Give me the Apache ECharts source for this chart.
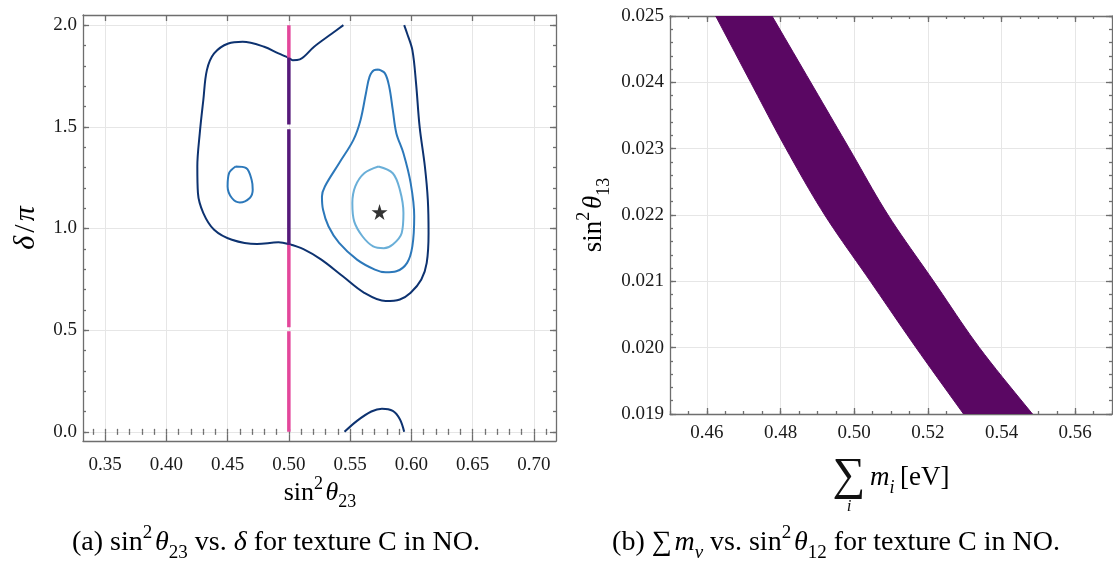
<!DOCTYPE html>
<html>
<head>
<meta charset="utf-8">
<script src="https://cdn.jsdelivr.net/npm/echarts@6/dist/echarts.min.js"></script>
<style>
  html, body { margin: 0; padding: 0; background: #ffffff; }
  #chart { width: 1113px; height: 561px; }
</style>
</head>
<body>
<div id="chart"></div>
<script>
// ---------- panel (a): sin^2(theta23) vs delta/pi ----------
const aXTicks = [0.35, 0.40, 0.45, 0.50, 0.55, 0.60, 0.65, 0.70];
const aYTicks = [0.0, 0.5, 1.0, 1.5, 2.0];

// outermost contour, open where it meets delta = 2pi
const contourOuter = [
  [0.5445, 2.0], [0.5352, 1.959], [0.5206, 1.894], [0.5090, 1.832], [0.5031, 1.828],
  [0.4996, 1.840], [0.4915, 1.861], [0.4798, 1.894], [0.4623, 1.918], [0.4506, 1.910],
  [0.4390, 1.861], [0.4331, 1.779], [0.4302, 1.632], [0.4273, 1.469], [0.4253, 1.305],
  [0.4258, 1.174], [0.4302, 1.076], [0.4390, 0.994], [0.4535, 0.945], [0.4740, 0.924],
  [0.4915, 0.932], [0.4996, 0.924], [0.5119, 0.899], [0.5265, 0.847], [0.5440, 0.765],
  [0.5615, 0.684], [0.5790, 0.643], [0.5906, 0.651], [0.5994, 0.684], [0.6081, 0.749],
  [0.6125, 0.831], [0.6140, 0.978], [0.6134, 1.141], [0.6110, 1.305], [0.6067, 1.501],
  [0.6038, 1.714], [0.6008, 1.877], [0.5965, 1.959], [0.5941, 2.0]
];
// the same level wrapping round from delta = 0
const contourOuterLow = [
  [0.5454, 0.0], [0.5556, 0.054], [0.5673, 0.100], [0.5760, 0.114],
  [0.5848, 0.103], [0.5906, 0.062], [0.5941, 0.0]
];
// middle level: small island on the left
const contourMidLeft = [
  [0.4565, 1.305], [0.4652, 1.297], [0.4696, 1.240], [0.4705, 1.190], [0.4681, 1.150],
  [0.4600, 1.128], [0.4535, 1.150], [0.4500, 1.207], [0.4512, 1.272], [0.4565, 1.305]
];
// middle level: region around the best fit
const contourMidRight = [
  [0.5731, 1.782], [0.5784, 1.763], [0.5819, 1.697], [0.5848, 1.583], [0.5877, 1.469],
  [0.5935, 1.370], [0.5994, 1.223], [0.6023, 1.060], [0.6008, 0.913], [0.5965, 0.831],
  [0.5877, 0.790], [0.5790, 0.785], [0.5702, 0.798], [0.5556, 0.847], [0.5410, 0.929],
  [0.5323, 1.011], [0.5279, 1.092], [0.5270, 1.158], [0.5294, 1.207], [0.5410, 1.321],
  [0.5527, 1.436], [0.5585, 1.534], [0.5629, 1.665], [0.5658, 1.746], [0.5696, 1.779],
  [0.5731, 1.782]
];
// innermost level
const contourInner = [
  [0.5731, 1.305], [0.5848, 1.272], [0.5906, 1.190], [0.5935, 1.076], [0.5921, 0.978],
  [0.5848, 0.921], [0.5775, 0.903], [0.5688, 0.912], [0.5600, 0.962], [0.5533, 1.035],
  [0.5518, 1.125], [0.5542, 1.207], [0.5615, 1.272], [0.5731, 1.305]
];
const bestFit = [[0.574, 1.081]];

// the texture-C prediction sin^2 theta23 = 0.5, split by colour along delta
const predictionX = 0.5;
const pinkRanges = [[0.0, 0.495], [0.515, 0.92], [1.84, 2.0]];
const purpleRanges = [[0.92, 1.488], [1.512, 1.84]];

// ---------- panel (b): sum of masses vs sin^2(theta13) ----------
const bXTicks = [0.46, 0.48, 0.50, 0.52, 0.54, 0.56];
const bYTicks = [0.019, 0.020, 0.021, 0.022, 0.023, 0.024, 0.025];
// allowed band: edges in sum m_i at each sin^2 theta13 level
const bandY     = [0.025, 0.024, 0.023, 0.022, 0.021, 0.020, 0.019];
const bandLeft  = [0.4624, 0.4719, 0.4815, 0.4920, 0.5044, 0.5168, 0.5297];
const bandRight = [0.4777, 0.4882, 0.4987, 0.5092, 0.5216, 0.5340, 0.5484];

// ---------- styling ----------
const FONT = '"Liberation Serif", "DejaVu Serif", serif';
const INK = '#111111';
const AXIS = '#6e6e6e';
const GRIDLINE = '#e6e6e6';
const NAVY = '#0d3270';
const MID = '#2c78ba';
const LIGHT = '#6aafd8';
const PINK = '#e3479b';
const PURPLE = '#56197a';
const BAND = '#5a0763';

function minorValues(min, max, step) {
  const out = [];
  for (let k = Math.ceil(min / step - 1e-9); k * step <= max + 1e-12; k++) {
    out.push(+(k * step).toFixed(6));
  }
  return out;
}

// four axes per direction: labelled main axis, its minor ticks, and mirrored ticks opposite
function axisGroup(dim, grid, min, max, majors, minorStep, fmt, margin) {
  const lineStyle = { color: AXIS, width: 1.3 };
  const minors = minorValues(min, max, minorStep);
  const posA = dim === 'x' ? 'bottom' : 'left';
  const posB = dim === 'x' ? 'top' : 'right';
  const base = { type: 'value', gridIndex: grid, min: min, max: max, axisPointer: { show: false } };
  return [
    Object.assign({}, base, {
      position: posA,
      axisLine: { show: true, onZero: false, lineStyle: lineStyle },
      axisTick: { show: true, inside: true, length: 6, customValues: majors, lineStyle: lineStyle },
      axisLabel: { show: true, customValues: majors, formatter: fmt, margin: margin,
                   color: '#1a1a1a', fontFamily: FONT, fontSize: 19 },
      splitLine: { show: true, lineStyle: { color: GRIDLINE, width: 1 } }
    }),
    Object.assign({}, base, {
      position: posA,
      axisLine: { show: false },
      axisTick: { show: true, inside: true, length: 3, customValues: minors, lineStyle: lineStyle },
      axisLabel: { show: false },
      splitLine: { show: false }
    }),
    Object.assign({}, base, {
      position: posB,
      axisLine: { show: true, onZero: false, lineStyle: lineStyle },
      axisTick: { show: true, inside: true, length: 6, customValues: majors, lineStyle: lineStyle },
      axisLabel: { show: false },
      splitLine: { show: false }
    }),
    Object.assign({}, base, {
      position: posB,
      axisLine: { show: false },
      axisTick: { show: true, inside: true, length: 3, customValues: minors, lineStyle: lineStyle },
      axisLabel: { show: false },
      splitLine: { show: false }
    })
  ];
}

// rich-text styles for inline maths (sin^2 theta_23 and the like)
function mathRich(size) {
  const s = Math.round(size * 0.68);
  const L = Math.round(size * 1.4);
  return {
    r:    { fontFamily: FONT, fontSize: size, lineHeight: L, color: INK },
    i:    { fontFamily: FONT, fontStyle: 'italic', fontSize: size, lineHeight: L, color: INK },
    sp:   { fontFamily: FONT, fontSize: Math.round(size * 0.4), lineHeight: L, color: INK },
    sup:  { fontFamily: FONT, fontSize: s, lineHeight: Math.round(size * 0.9), verticalAlign: 'top', color: INK },
    sub:  { fontFamily: FONT, fontSize: s, lineHeight: Math.round(size * 0.8), verticalAlign: 'bottom', color: INK },
    subi: { fontFamily: FONT, fontStyle: 'italic', fontSize: s, lineHeight: Math.round(size * 0.8), verticalAlign: 'bottom', color: INK }
  };
}

const xAxes = []
  .concat(axisGroup('x', 0, 0.332, 0.718, aXTicks, 0.01, v => v.toFixed(2), 15))
  .concat(axisGroup('x', 1, 0.45, 0.57, bXTicks, 0.005, v => v.toFixed(2), 10));
const yAxes = []
  .concat(axisGroup('y', 0, -0.045, 2.05, aYTicks, 0.1, v => v.toFixed(1), 6))
  .concat(axisGroup('y', 1, 0.019, 0.025, bYTicks, 0.0002, v => v.toFixed(3), 6));

const series = [];
function contour(data, color) {
  series.push({
    type: 'line', xAxisIndex: 0, yAxisIndex: 0, data: data,
    symbol: 'none', smooth: 0.35, silent: true, z: 3,
    lineStyle: { color: color, width: 2 }
  });
}
contour(contourOuter, NAVY);
contour(contourOuterLow, NAVY);
contour(contourMidLeft, MID);
contour(contourMidRight, MID);
contour(contourInner, LIGHT);

function prediction(ranges, color) {
  ranges.forEach(r => {
    series.push({
      type: 'line', xAxisIndex: 0, yAxisIndex: 0,
      data: [[predictionX, r[0]], [predictionX, r[1]]],
      symbol: 'none', silent: true, z: 4,
      lineStyle: { color: color, width: 3.5, cap: 'butt' }
    });
  });
}
prediction(pinkRanges, PINK);
prediction(purpleRanges, PURPLE);

series.push({
  type: 'scatter', xAxisIndex: 0, yAxisIndex: 0, data: bestFit, z: 5, silent: true,
  symbol: 'path://M50,0 L61.2,34.5 L97.6,34.5 L68.2,55.9 L79.4,90.5 L50,69.1 L20.6,90.5 L31.8,55.9 L2.4,34.5 L38.8,34.5 Z',
  symbolSize: 16, itemStyle: { color: '#000000' }
});

// Catmull-Rom through screen points so the band edges bend smoothly
function smoothEdge(pts, steps) {
  const out = [pts[0]];
  for (let i = 0; i < pts.length - 1; i++) {
    const p0 = pts[i - 1] || pts[i], p1 = pts[i], p2 = pts[i + 1], p3 = pts[i + 2] || pts[i + 1];
    for (let k = 1; k <= steps; k++) {
      const t = k / steps, t2 = t * t, t3 = t2 * t;
      const f = (a, b, c, d) => 0.5 * ((2 * b) + (-a + c) * t + (2 * a - 5 * b + 4 * c - d) * t2 + (-a + 3 * b - 3 * c + d) * t3);
      out.push([f(p0[0], p1[0], p2[0], p3[0]), f(p0[1], p1[1], p2[1], p3[1])]);
    }
  }
  return out;
}

const bandPoly = bandY.map((y, i) => [bandLeft[i], y])
  .concat(bandY.map((y, i) => [bandRight[i], y]).reverse());
series.push({
  type: 'custom', xAxisIndex: 4, yAxisIndex: 4, data: bandPoly, clip: true, silent: true, z: 3,
  renderItem: function (params, api) {
    if (params.dataIndex !== 0) return null;
    const left = bandY.map((y, i) => api.coord([bandLeft[i], y]));
    const right = bandY.map((y, i) => api.coord([bandRight[i], y])).reverse();
    const pts = smoothEdge(left, 10).concat(smoothEdge(right, 10));
    return {
      type: 'polygon',
      shape: { points: pts },
      style: { fill: BAND, stroke: BAND, lineWidth: 1 }
    };
  }
});

const graphic = [
  { type: 'text', x: 320, y: 493, style: { text: '{r|sin}{sup|2}{sp| }{i|θ}{sub|23}', rich: mathRich(26), align: 'center', verticalAlign: 'middle' } },
  { type: 'text', x: 26, y: 228, rotation: Math.PI / 2, style: { text: '{i|δ}{sp| }{r|/}{sp| }{i|π}', rich: mathRich(30), align: 'center', verticalAlign: 'middle' } },
  { type: 'text', x: 594, y: 215, rotation: Math.PI / 2, style: { text: '{r|sin}{sup|2}{sp| }{i|θ}{sub|13}', rich: mathRich(27), align: 'center', verticalAlign: 'middle' } },
  { type: 'text', x: 849, y: 477, style: { text: '∑', fontFamily: FONT, fontSize: 46, fill: INK, align: 'center', verticalAlign: 'middle' } },
  { type: 'text', x: 849, y: 507, style: { text: 'i', fontFamily: FONT, fontStyle: 'italic', fontSize: 17, fill: INK, align: 'center', verticalAlign: 'middle' } },
  { type: 'text', x: 870, y: 478, style: { text: '{i|m}{subi|i}{sp| }{sp| }{r|[eV]}', rich: mathRich(27), align: 'left', verticalAlign: 'middle' } },
  { type: 'text', x: 276, y: 543, style: { text: '{r|(a) sin}{sup|2}{sp| }{i|θ}{sub|23}{r| vs. }{i|δ}{r| for texture C in NO.}', rich: mathRich(28), align: 'center', verticalAlign: 'middle' } },
  { type: 'text', x: 836, y: 543, style: { text: '{r|(b) }{r|∑}{sp| }{i|m}{subi|ν}{r| vs. sin}{sup|2}{sp| }{i|θ}{sub|12}{r| for texture C in NO.}', rich: mathRich(28), align: 'center', verticalAlign: 'middle' } }
];

const chart = echarts.init(document.getElementById('chart'), null, { renderer: 'canvas' });
chart.setOption({
  backgroundColor: '#ffffff',
  animation: false,
  grid: [
    { left: 83, top: 15, width: 473, height: 426 },
    { left: 670, top: 16, width: 442, height: 398 }
  ],
  xAxis: xAxes,
  yAxis: yAxes,
  series: series,
  graphic: graphic
});
</script>
</body>
</html>
